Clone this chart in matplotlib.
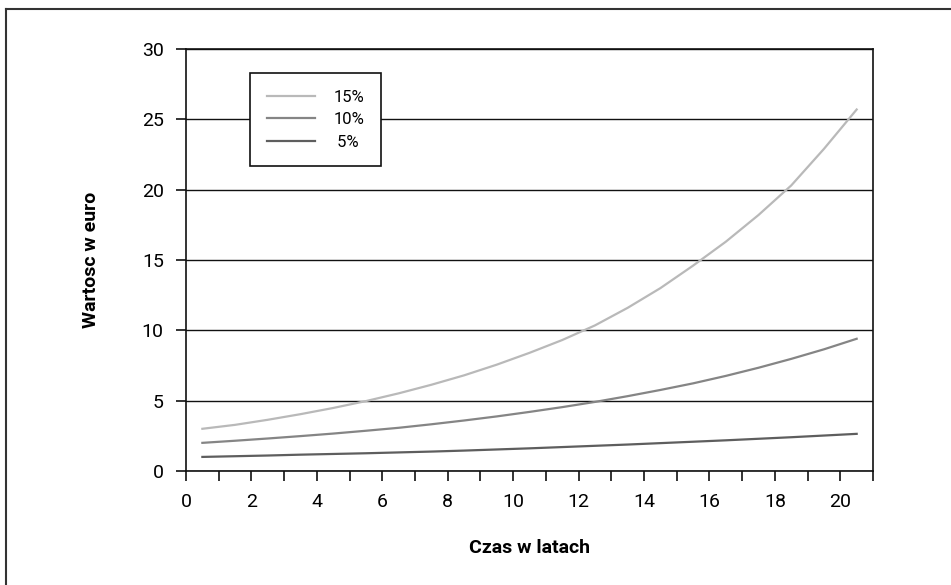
import numpy as np
import matplotlib
matplotlib.use("Agg")
import matplotlib.pyplot as plt
from matplotlib.lines import Line2D

plt.rcParams['font.family'] = ['Roboto', 'DejaVu Sans']

# czas w latach (srodek kazdego roku)
years = [0.5, 1.5, 2.5, 3.5, 4.5, 5.5, 6.5, 7.5, 8.5, 9.5, 10.5,
         11.5, 12.5, 13.5, 14.5, 15.5, 16.5, 17.5, 18.5, 19.5, 20.5]
val_15 = [3.00, 3.28, 3.64, 4.04, 4.48, 4.97, 5.52, 6.13, 6.80, 7.56, 8.40,
          9.31, 10.35, 11.6, 13.0, 14.6, 16.3, 18.2, 20.3, 22.9, 25.7]
val_10 = [2.00, 2.15, 2.31, 2.48, 2.66, 2.86, 3.07, 3.32, 3.59, 3.88, 4.20,
          4.54, 4.91, 5.32, 5.76, 6.23, 6.76, 7.34, 7.97, 8.65, 9.40]
val_5 = [1.00, 1.05, 1.10, 1.16, 1.21, 1.26, 1.32, 1.38, 1.45, 1.53, 1.61,
         1.70, 1.79, 1.88, 1.98, 2.08, 2.18, 2.29, 2.40, 2.52, 2.64]
labels = ['15%', '10%', ' 5%']

fig = plt.figure(figsize=(9.51, 5.85), dpi=100)
ax = fig.add_axes([0.1956, 0.1949, 0.7224, 0.7213])

ax.plot(years, val_15, color='#b9b9b9', lw=1.6, label=labels[0])
ax.plot(years, val_10, color='#858585', lw=1.6, label=labels[1])
ax.plot(years, val_5, color='#5e5e5e', lw=1.6, label=labels[2])

ax.set_xlim(0, 21)
ax.set_ylim(0, 30)
ax.set_xticks(range(0, 22))
ax.set_xticklabels([str(i) if i % 2 == 0 and i <= 20 else '' for i in range(0, 22)])
ax.set_yticks(range(0, 31, 5))
ax.yaxis.grid(True, color='#111111', lw=1.0)
ax.set_axisbelow(True)
for s in ax.spines.values():
    s.set_color('#111111')
    s.set_linewidth(1.2)
ax.tick_params(direction='out', length=7, width=1.2, color='#111111',
               labelsize=14, pad=9)

ax.set_xlabel('Czas w latach', fontsize=14, fontweight='bold', labelpad=20)
ax.set_ylabel('Wartosc w euro', fontsize=14, fontweight='bold', labelpad=30)

leg = ax.legend(loc='upper left', bbox_to_anchor=(0.093, 0.943),
                fancybox=False, framealpha=1, edgecolor='#111111',
                fontsize=12, handlelength=2.9, handletextpad=1.1,
                borderpad=1.0, labelspacing=0.45, borderaxespad=0)
leg.get_frame().set_linewidth(1.2)

# ramka wokol rysunku (lewa i gorna krawedz)
fig.add_artist(Line2D([6 / 951, 6 / 951], [0, 1 - 9 / 585], color='#333333', lw=1.5))
fig.add_artist(Line2D([6 / 951, 1], [1 - 9 / 585, 1 - 9 / 585], color='#333333', lw=1.5))

fig.savefig('out.png', dpi=100)
